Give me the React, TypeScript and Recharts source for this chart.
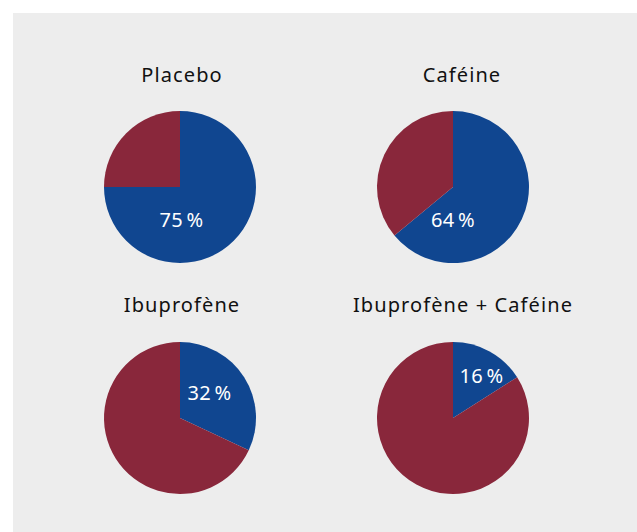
import React from 'react';
import { PieChart, Pie, Cell, Customized } from 'recharts';

const panelTitles = ['Placebo', 'Caféine', 'Ibuprofène', 'Ibuprofène + Caféine'];
const responderPct = [75, 64, 32, 16];
const otherPct = [25, 36, 68, 84];
const sliceColors = ['#104690', '#89273b'];

// layout (chart coords)
const W = 624;
const H = 519;
const centers = [
  { cx: 167, cy: 174 },
  { cx: 440, cy: 174 },
  { cx: 167, cy: 405 },
  { cx: 440, cy: 405 },
];
const titlePos = [
  { x: 169, y: 69 },
  { x: 449, y: 69 },
  { x: 169, y: 299 },
  { x: 450, y: 299 },
];
const labelOffsets = [
  { dx: 1.5, dy: 40 },
  { dx: 0, dy: 40 },
  { dx: 29.5, dy: -18 },
  { dx: 28.5, dy: -35 },
];
const R = 76;
const FONT = '"Noto Sans", sans-serif';

export default function App() {
  return (
    <div style={{ position: 'absolute', left: 13, top: 13, width: W, height: H, background: '#ededed' }}>
      <PieChart width={W} height={H} margin={{ top: 0, right: 0, bottom: 0, left: 0 }}>
        {panelTitles.map((title, i) => {
          const data = [
            { name: 'oui', value: responderPct[i] },
            { name: 'non', value: otherPct[i] },
          ];
          const off = labelOffsets[i];
          return (
            <Pie
              key={title}
              data={data}
              dataKey="value"
              cx={centers[i].cx}
              cy={centers[i].cy}
              outerRadius={R}
              startAngle={90}
              endAngle={-270}
              stroke="none"
              isAnimationActive={false}
              labelLine={false}
              label={(p: any) =>
                p.index === 0 ? (
                  <text
                    x={centers[i].cx + off.dx}
                    y={centers[i].cy + off.dy}
                    textAnchor="middle"
                    fill="#ffffff"
                    fontFamily={FONT}
                    fontSize={20}
                    letterSpacing={0.3}
                  >
                    {`${responderPct[i]}\u2009%`}
                  </text>
                ) : null
              }
            >
              {data.map((d, j) => (
                <Cell key={d.name} fill={sliceColors[j]} />
              ))}
            </Pie>
          );
        })}
        <Customized
          component={() => (
            <g>
              {panelTitles.map((t, i) => (
                <text
                  key={t}
                  x={titlePos[i].x}
                  y={titlePos[i].y}
                  textAnchor="middle"
                  fill="#111"
                  fontFamily={FONT}
                  fontSize={20}
                  letterSpacing={1.1}
                >
                  {t}
                </text>
              ))}
            </g>
          )}
        />
      </PieChart>
    </div>
  );
}
